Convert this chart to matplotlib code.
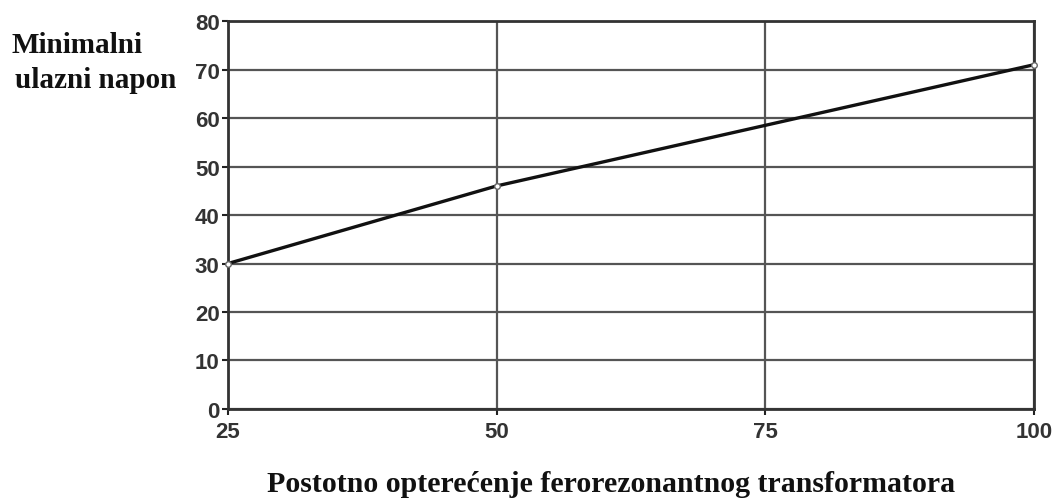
import matplotlib.pyplot as plt

# opterecenje (%) i minimalni ulazni napon
load = [25, 50, 100]
voltage = [30, 46, 71]
x_ticks = [25, 50, 75, 100]
y_ticks = [0, 10, 20, 30, 40, 50, 60, 70, 80]

fig = plt.figure(figsize=(10.54, 5.02), dpi=100)
ax = fig.add_axes([0.2163, 0.1833, 0.7647, 0.7727])

ax.plot(load, voltage, color='#111111', lw=2.4, marker='o', ms=4,
        mfc='white', mec='#666666', mew=1, clip_on=False, zorder=3)

ax.set_xlim(25, 100)
ax.set_ylim(0, 80)
ax.set_xticks(x_ticks)
ax.set_yticks(y_ticks)
ax.grid(True, color='#555555', lw=1.6)
ax.set_axisbelow(True)

for s in ax.spines.values():
    s.set_color('#333333')
    s.set_linewidth(2)

ax.tick_params(axis='both', direction='out', length=4, width=1.5, color='#222222',
               labelsize=16, labelcolor='#333333')
ax.tick_params(axis='y', pad=2)
ax.tick_params(axis='x', pad=5)
for lab in ax.get_xticklabels() + ax.get_yticklabels():
    lab.set_fontfamily('Liberation Sans')
    lab.set_fontweight('bold')

fig.text(0.011, 0.91, 'Minimalni', family='Liberation Serif', fontweight='bold',
         fontsize=21, color='#111111', ha='left', va='center')
fig.text(0.014, 0.84, 'ulazni napon', family='Liberation Serif', fontweight='bold',
         fontsize=21, color='#111111', ha='left', va='center')
fig.text(0.58, 0.034, 'Postotno opterećenje ferorezonantnog transformatora',
         family='Liberation Serif', fontweight='bold', fontsize=21.5,
         color='#111111', ha='center', va='center')

fig.savefig('out.png', dpi=100)
